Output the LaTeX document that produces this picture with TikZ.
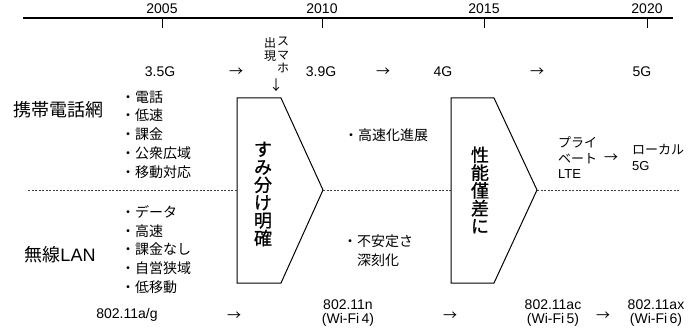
\documentclass[tikz,border=0pt]{standalone}
\usepackage{fontspec}
\setmainfont{Noto Sans CJK JP}
\newfontfamily\latin{Liberation Sans}
\newfontfamily\tatefont{Noto Sans CJK JP}[FakeBold=0.9]
\usetikzlibrary{positioning}

\tikzset{
	lbl/.style={font=\fontsize{14}{15}\selectfont\latin, inner sep=0pt},
	arr/.style={font=\fontsize{14}{15}\selectfont, inner sep=0pt},
	wlan/.style={font=\fontsize{14}{14}\selectfont\latin, inner sep=0pt, align=center},
	net/.style={font=\fontsize{18}{20}\selectfont, inner sep=0pt},
	items/.style={font=\fontsize{14}{18.7}\selectfont, inner sep=0pt, align=left, anchor=west},
	small/.style={font=\fontsize{13}{15.5}\selectfont, inner sep=0pt, align=left, anchor=west},
	tate/.style={font=\fontsize{18}{17.8}\selectfont\tatefont, inner sep=0pt, align=center},
	gate/.style={line width=1pt},
	sep/.style={line width=0.9pt, dash pattern=on 2pt off 1.5pt, black!75},
}

\begin{document}
\begin{tikzpicture}[x=1pt, y=-1pt]
	\useasboundingbox (0,0) rectangle (697,334);
	% time axis
	\draw[line width=1.6pt] (23,18) -- (673,18);
	\foreach \x/\yr in {162/2005, 322/2010, 484/2015, 647/2020}{
		\draw[line width=1pt] (\x,18) -- (\x,28);
		\node[lbl] at (\x,9) {\yr};
	}

	% mobile network
	\node[lbl] (g35) at (160,72) {3.5G};
	\node[arr] (a1) at (236,72) {→};
	\node[font=\fontsize{12}{13.5}\selectfont, inner sep=0pt, align=center, anchor=north] (smart) at (283,37) {ス\\マ\\ホ};
	\node[font=\fontsize{12}{13.5}\selectfont, inner sep=0pt, align=center, anchor=north] (debut) at (270,37) {出\\現};
	\node[arr] (down) at (276,85) {↓};
	\node[lbl] (g39) at (321,72) {3.9G};
	\node[arr] (a2) at (383,72) {→};
	\node[lbl] (g4) at (443,72) {4G};
	\node[arr] (a3) at (537,72) {→};
	\node[lbl] (g5) at (642,72) {5G};

	\node[net] (mobile) at (58,110) {携帯電話網};
	\node[items] (mobitems) at (121,134.5) {・電話\\・低速\\・課金\\・公衆広域\\・移動対応};
	\node[items] (speed) at (344,135) {・高速化進展};
	\node[small] (plte) at (558,158) {プライ\\ベート\\{\latin LTE}};
	\node[arr] (a4) at (611,158) {→};
	\node[small] (l5g) at (632,157.5) {ローカル\\{\latin 5G}};

	% separator and gates
	\coordinate (start) at (28,190);
	\coordinate (finish) at (680,190);
	\coordinate (g1in) at (237,190);
	\coordinate (g1tip) at (323,190);
	\coordinate (g2in) at (451,190);
	\coordinate (g2tip) at (537,190);
	\draw[gate] (237,98) -- (281,98) -- (g1tip) -- (281,283) -- (237,283) -- cycle;
	\draw[gate] (451,98) -- (494,98) -- (g2tip) -- (494,283) -- (451,283) -- cycle;
	\draw[sep] (start) -- (g1in);
	\draw[sep] (g1tip) -- (g2in);
	\draw[sep] (g2tip) -- (finish);
	\node[tate] (split) at (263,194) {す\\み\\分\\け\\明\\確};
	\node[tate] (close) at (480,190) {性\\能\\僅\\差\\に};

	% wireless LAN
	\node[net] (lan) at (60,255) {無線{\latin LAN}};
	\node[items] (lanitems) at (121,249.5) {・データ\\・高速\\・課金なし\\・自営狭域\\・低移動};
	\node[items] (unstable) at (343,250.5) {・不安定さ\\\hspace{14pt}深刻化};

	\node[lbl] (ag) at (127,315) {802.11a/g};
	\node[arr] (a5) at (234,316) {→};
	\node[wlan] (n) at (348,313.5) {802.11n\\(Wi-Fi\,4)};
	\node[arr] (a6) at (450,316) {→};
	\node[wlan] (ac) at (553,313.5) {802.11ac\\(Wi-Fi\,5)};
	\node[arr] (a7) at (603,316) {→};
	\node[wlan] (ax) at (656,313.5) {802.11ax\\(Wi-Fi\,6)};
\end{tikzpicture}
\end{document}
